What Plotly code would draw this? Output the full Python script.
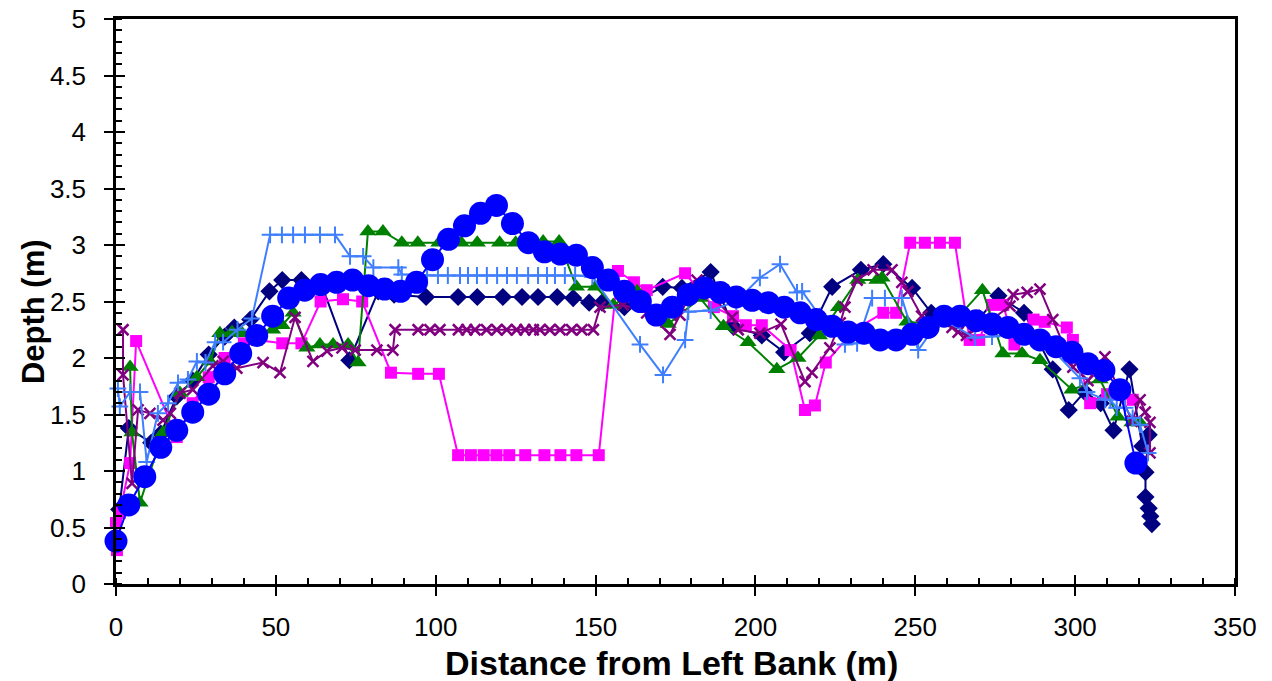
import plotly.graph_objects as go

# ---- data (distance m, depth m) ----
navy_x = [1, 4, 11, 14, 19, 24, 29, 34, 37, 42, 48, 52, 58, 64, 73, 82, 87, 97, 107, 113, 121, 127, 132, 138, 143, 148, 152, 159, 171, 177, 186, 193, 202, 209, 217, 224, 233, 240, 249, 255, 263, 270, 276, 284, 293, 298, 303, 308, 312, 317, 321, 323, 322, 322, 323, 323.5, 324]
navy_y = [0.66, 1.38, 1.25, 1.33, 1.66, 1.80, 2.03, 2.19, 2.27, 2.34, 2.59, 2.69, 2.69, 2.67, 1.98, 2.59, 2.56, 2.54, 2.54, 2.54, 2.54, 2.54, 2.54, 2.54, 2.53, 2.49, 2.49, 2.45, 2.63, 2.62, 2.76, 2.28, 2.20, 2.05, 2.22, 2.63, 2.78, 2.83, 2.62, 2.40, 2.33, 2.35, 2.55, 2.40, 1.90, 1.54, 1.70, 1.60, 1.36, 1.90, 1.22, 1.32, 0.99, 0.77, 0.67, 0.60, 0.53]

mag_x = [0.3, 0, 1.2, 4.4, 6.3, 19, 24, 29, 34, 40, 44, 52, 58, 64, 71, 77, 86, 94.5, 101, 107, 111, 115, 119, 123, 128, 134, 139, 144, 151, 157, 162, 166, 178, 187, 193, 197, 202, 211, 215.5, 218.6, 222, 231, 240, 244, 248.4, 253, 257.7, 262.4, 267, 270, 274, 277.5, 281, 287, 290.5, 297.4, 299.3, 304.7, 310, 318]
mag_y = [0.30, 0.54, 0.63, 1.07, 2.15, 1.30, 1.60, 1.83, 2.00, 2.13, 2.16, 2.13, 2.13, 2.50, 2.52, 2.50, 1.87, 1.86, 1.86, 1.14, 1.14, 1.14, 1.14, 1.14, 1.14, 1.14, 1.14, 1.14, 1.14, 2.77, 2.67, 2.60, 2.75, 2.45, 2.37, 2.29, 2.29, 2.07, 1.54, 1.58, 1.96, 2.25, 2.40, 2.40, 3.02, 3.02, 3.02, 3.02, 2.16, 2.16, 2.47, 2.47, 2.12, 2.34, 2.32, 2.27, 2.16, 1.60, 1.68, 1.63]

grn_x = [4.4, 5, 7.5, 14.7, 20, 25.3, 29.4, 32.5, 36.3, 39.4, 45, 49, 52, 55.4, 59.7, 63.8, 67.9, 72.6, 75.7, 78.8, 83.5, 89.4, 94.4, 101, 108, 113, 120, 125, 133.6, 138.6, 144, 150, 155.5, 163, 172.7, 182.7, 190, 197.7, 206.7, 213.3, 220, 226, 232, 238, 239.6, 247.4, 255, 263, 271, 277.4, 283.4, 289, 299, 307.8, 313.4, 317.8, 320.3]
grn_y = [1.92, 1.34, 0.72, 1.34, 1.69, 1.83, 1.97, 2.22, 2.23, 2.22, 2.22, 2.25, 2.29, 2.40, 2.09, 2.12, 2.12, 2.12, 1.96, 3.12, 3.12, 3.02, 3.02, 3.02, 3.02, 3.02, 3.02, 3.02, 3.03, 3.03, 2.63, 2.63, 2.47, 2.59, 2.30, 2.53, 2.28, 2.14, 1.90, 2.00, 2.20, 2.45, 2.69, 2.69, 2.71, 2.32, 2.30, 2.35, 2.60, 2.04, 2.04, 1.98, 1.72, 1.81, 1.48, 1.43, 1.43]

pur_x = [2.2, 2.2, 5, 6.9, 10.6, 14.7, 17, 20, 24, 30.3, 33.5, 37.8, 46, 51.3, 56, 61.6, 66, 70.7, 74.8, 81.6, 86.6, 87.3, 94.5, 98.2, 101.3, 107.1, 109.7, 112.3, 115.9, 119.1, 122.2, 125.3, 127.9, 130.5, 132.6, 135.7, 138.9, 142.5, 145.7, 149.3, 151.4, 158.6, 166, 173.3, 176.4, 181.7, 192.7, 194.6, 201.4, 208, 215.5, 217.7, 223.3, 226.5, 228, 231.8, 236.8, 242.7, 245.8, 247.7, 252, 261.5, 263.4, 266, 272, 279.6, 280.6, 285, 289, 293, 299.3, 304, 309.3, 317.8, 320.3, 321.9, 323.4, 323.4]
pur_y = [2.25, 1.85, 0.89, 1.54, 1.51, 1.45, 1.51, 1.69, 1.72, 1.93, 1.97, 1.91, 1.96, 1.87, 2.36, 1.97, 2.06, 2.09, 2.07, 2.07, 2.07, 2.25, 2.25, 2.25, 2.25, 2.25, 2.25, 2.25, 2.25, 2.25, 2.25, 2.25, 2.25, 2.25, 2.25, 2.25, 2.25, 2.25, 2.25, 2.25, 2.45, 2.47, 2.40, 2.21, 2.38, 2.69, 2.36, 2.25, 2.22, 2.30, 1.79, 1.87, 2.09, 2.31, 2.45, 2.69, 2.78, 2.78, 2.67, 2.59, 2.37, 2.27, 2.23, 2.20, 2.30, 2.46, 2.56, 2.58, 2.61, 2.34, 1.92, 1.80, 2.01, 1.44, 1.63, 1.52, 1.43, 1.16]

lb_x = [0.6, 1.2, 4.4, 7.5, 9.6, 13.1, 16.3, 19.4, 22.5, 25.3, 28, 31, 33.5, 38, 42.5, 48.2, 51.9, 55.4, 59.1, 63.8, 68.5, 73.2, 77.3, 80.5, 88.3, 89.4, 97.3, 100.7, 103.8, 107.6, 110.1, 112.9, 116.0, 119.2, 122.3, 125.4, 128.9, 132.0, 134.8, 137.3, 140.4, 143.6, 149, 163.9, 171.1, 178, 179, 186, 194, 201.4, 207.7, 213, 214.6, 220.2, 228, 231.8, 236.5, 240.5, 245.8, 250.9, 258, 268.7, 274, 283, 292, 301.5, 303.7, 309.4, 311, 313, 315.6, 318, 320.3, 322.8]
lb_y = [1.73, 1.57, 1.70, 1.70, 1.08, 1.51, 1.60, 1.78, 1.81, 1.97, 1.96, 2.14, 2.14, 2.25, 2.35, 3.09, 3.09, 3.09, 3.09, 3.09, 3.09, 2.90, 2.90, 2.80, 2.80, 2.74, 2.73, 2.73, 2.73, 2.73, 2.73, 2.73, 2.73, 2.73, 2.73, 2.73, 2.73, 2.73, 2.73, 2.73, 2.73, 2.73, 2.72, 2.12, 1.85, 2.16, 2.41, 2.42, 2.50, 2.71, 2.83, 2.58, 2.59, 2.37, 2.12, 2.13, 2.53, 2.53, 2.53, 2.07, 2.35, 2.18, 2.19, 2.22, 2.10, 1.82, 1.70, 1.63, 1.63, 1.56, 1.56, 1.47, 1.41, 1.16]

blue_x = [0, 4, 9, 14, 19, 24, 29, 34, 39, 44, 49, 54, 59, 64, 69, 74, 79, 84, 89, 94, 99, 104, 109, 114, 119, 124, 129, 134, 139, 144, 149, 154, 159, 164, 169, 174, 179, 184, 189, 194, 199, 204, 209, 214, 219, 224, 229, 234, 239, 244, 249, 254, 259, 264, 269, 274, 279, 284, 289, 294, 299, 304, 309, 314, 319]
blue_y = [0.38, 0.70, 0.95, 1.21, 1.36, 1.52, 1.68, 1.86, 2.04, 2.20, 2.37, 2.53, 2.60, 2.65, 2.67, 2.69, 2.64, 2.61, 2.59, 2.67, 2.87, 3.05, 3.17, 3.28, 3.35, 3.19, 3.02, 2.94, 2.92, 2.91, 2.80, 2.69, 2.59, 2.50, 2.38, 2.45, 2.56, 2.62, 2.58, 2.54, 2.51, 2.49, 2.45, 2.40, 2.34, 2.28, 2.23, 2.22, 2.16, 2.16, 2.21, 2.27, 2.37, 2.37, 2.33, 2.30, 2.27, 2.21, 2.16, 2.10, 2.05, 1.95, 1.89, 1.72, 1.07]

x_range = [0, 350]
y_range = [0, 5]
x_title = "Distance from Left Bank (m)"
y_title = "Depth (m)"

fig = go.Figure()

def add(xs, ys, color, symbol, size, lw=2, mline=0):
    fig.add_trace(go.Scatter(
        x=xs, y=ys, mode="lines+markers",
        line=dict(color=color, width=lw),
        marker=dict(symbol=symbol, size=size, color=color,
                    line=dict(color=color, width=mline)),
        showlegend=False, cliponaxis=False))

add(navy_x, navy_y, "#000080", "diamond", 14)
add(mag_x, mag_y, "#FF00FF", "square", 12)
add(grn_x, grn_y, "#008000", "triangle-up", 15)
add(pur_x, pur_y, "#800080", "x-thin", 11, lw=2, mline=2.5)
add(lb_x, lb_y, "#3F7FFF", "cross-thin", 12, lw=2, mline=2)
add(blue_x, blue_y, "#0000FF", "circle", 23)

# invisible trace to hold the overlay axes (inner half of crossing major ticks)
fig.add_trace(go.Scatter(x=[None], y=[None], xaxis="x2", yaxis="y2",
                         showlegend=False, hoverinfo="skip"))

fam = "Liberation Sans, Arial, sans-serif"
tickfont = dict(family=fam, size=26, color="black")

fig.update_layout(
    width=1272, height=681,
    margin=dict(l=116, r=37, t=19, b=97, autoexpand=False),
    plot_bgcolor="white", paper_bgcolor="white",
    xaxis=dict(range=x_range, dtick=50, tick0=0, showgrid=False, zeroline=False,
               automargin=False,
               showline=True, linecolor="black", linewidth=2.5, mirror=True,
               ticks="outside", ticklen=9, tickwidth=2, tickcolor="black",
               ticklabelstandoff=9,
               minor=dict(ticks="inside", ticklen=6, tickwidth=1.5, dtick=10, tickcolor="black", showgrid=False),
               tickfont=tickfont),
    yaxis=dict(range=y_range, dtick=0.5, tick0=0, showgrid=False, zeroline=False,
               automargin=False,
               showline=True, linecolor="black", linewidth=2.5, mirror=True,
               ticks="outside", ticklen=9, tickwidth=2, tickcolor="black",
               ticksuffix="\u2002",
               minor=dict(ticks="inside", ticklen=6, tickwidth=1.5, dtick=0.1, tickcolor="black", showgrid=False),
               tickfont=tickfont),
    xaxis2=dict(range=x_range, dtick=50, tick0=0, overlaying="x", anchor="y",
                automargin=False,
                showgrid=False, zeroline=False, showline=False, showticklabels=False,
                ticks="inside", ticklen=9, tickwidth=2, tickcolor="black"),
    yaxis2=dict(range=y_range, dtick=0.5, tick0=0, overlaying="y", anchor="x",
                automargin=False,
                showgrid=False, zeroline=False, showline=False, showticklabels=False,
                ticks="inside", ticklen=9, tickwidth=2, tickcolor="black"),
    annotations=[
        dict(text="<b>" + x_title + "</b>", xref="paper", yref="paper",
             x=0.496, y=-0.1395, xanchor="center", yanchor="middle", showarrow=False,
             font=dict(family=fam, size=34, color="black")),
        dict(text="<b>" + y_title + "</b>", xref="paper", yref="paper",
             x=-0.0742, y=0.483, xanchor="center", yanchor="middle", showarrow=False,
             textangle=-90, font=dict(family=fam, size=31, color="black")),
    ],
)

fig.write_html("out.html")
